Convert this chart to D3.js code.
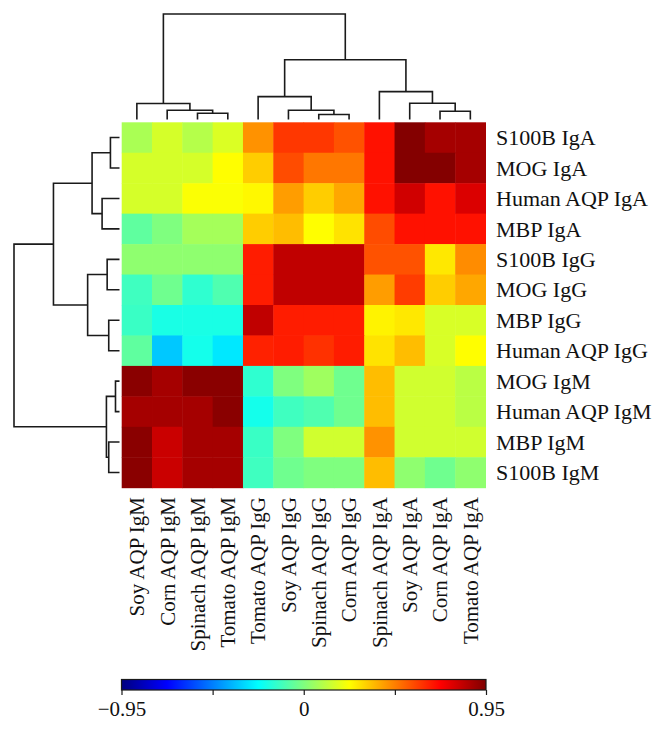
<!DOCTYPE html>
<html>
<head>
<meta charset="utf-8">
<script src="https://cdn.jsdelivr.net/npm/d3@7"></script>
<style>
  html, body { margin: 0; padding: 0; background: #fff; }
  svg { display: block; }
  text { font-family: "Liberation Serif", "DejaVu Serif", serif; fill: #111; }
</style>
</head>
<body>
<svg id="chart" width="666" height="733"></svg>
<script>
// ---------- DATA ----------
const columns = ["Soy AQP IgM", "Corn AQP IgM", "Spinach AQP IgM", "Tomato AQP IgM",
                 "Tomato AQP IgG", "Soy AQP IgG", "Spinach AQP IgG", "Corn AQP IgG",
                 "Spinach AQP IgA", "Soy AQP IgA", "Corn AQP IgA", "Tomato AQP IgA"];
const rows = ["S100B IgA", "MOG IgA", "Human AQP IgA", "MBP IgA",
              "S100B IgG", "MOG IgG", "MBP IgG", "Human AQP IgG",
              "MOG IgM", "Human AQP IgM", "MBP IgM", "S100B IgM"];

// correlation values, one array per row (in column order above)
const rowS100BIgA    = [0.08, 0.16, 0.10, 0.17, 0.44, 0.61, 0.61, 0.56, 0.68, 0.94, 0.88, 0.88];
const rowMOGIgA      = [0.16, 0.16, 0.16, 0.24, 0.33, 0.57, 0.49, 0.49, 0.68, 0.94, 0.94, 0.88];
const rowHumanIgA    = [0.16, 0.16, 0.23, 0.23, 0.25, 0.42, 0.33, 0.40, 0.68, 0.80, 0.68, 0.78];
const rowMBPIgA      = [-0.06, 0.00, 0.07, 0.07, 0.33, 0.36, 0.24, 0.29, 0.57, 0.68, 0.68, 0.68];
const rowS100BIgG    = [0.03, 0.03, 0.03, 0.03, 0.66, 0.83, 0.83, 0.83, 0.56, 0.56, 0.28, 0.45];
const rowMOGIgG      = [-0.12, -0.03, -0.15, -0.09, 0.66, 0.83, 0.83, 0.83, 0.42, 0.60, 0.33, 0.40];
const rowMBPIgG      = [-0.13, -0.19, -0.19, -0.19, 0.83, 0.66, 0.66, 0.66, 0.26, 0.28, 0.165, 0.165];
const rowHumanIgG    = [-0.06, -0.34, -0.20, -0.28, 0.65, 0.66, 0.62, 0.66, 0.29, 0.36, 0.165, 0.24];
const rowMOGIgM      = [0.93, 0.88, 0.93, 0.93, -0.15, 0.00, 0.06, -0.03, 0.36, 0.15, 0.15, 0.11];
const rowHumanIgM    = [0.88, 0.88, 0.88, 0.93, -0.20, -0.12, -0.09, -0.03, 0.36, 0.15, 0.15, 0.11];
const rowMBPIgM      = [0.93, 0.81, 0.88, 0.88, -0.13, 0.00, 0.15, 0.15, 0.44, 0.15, 0.15, 0.15];
const rowS100BIgM    = [0.93, 0.81, 0.88, 0.88, -0.12, -0.03, 0.00, 0.00, 0.36, 0.03, -0.03, 0.03];
const values = [rowS100BIgA, rowMOGIgA, rowHumanIgA, rowMBPIgA, rowS100BIgG, rowMOGIgG,
                rowMBPIgG, rowHumanIgG, rowMOGIgM, rowHumanIgM, rowMBPIgM, rowS100BIgM];

// dendrograms: [left, right, mergeHeight]; leaves are indices (relative heights, root = 1)
const colTree = [[0, [1, [2, 3, 0.059], 0.088], 0.151],
                 [[4, [5, [6, 7, 0.047], 0.088], 0.217],
                  [8, [9, [10, 11, 0.078], 0.154], 0.264], 0.566], 1.0];
const rowTree = [[[[0, 1, 0.086], [2, 3, 0.165], 0.26],
                  [[4, 5, 0.117], [6, 7, 0.102], 0.302], 0.626],
                 [[8, 9, 0.038], [10, 11, 0.102], 0.124], 1.0];

const legendTicks = [-0.95, -0.475, 0, 0.475, 0.95];
const legendLabels = ["\u22120.95", "", "0", "", "0.95"];
const jetColors = ["#00007F", "#0000FF", "#007FFF", "#00FFFF", "#7FFF7F",
                   "#FFFF00", "#FF7F00", "#FF0000", "#7F0000"];

// ---------- SCALES ----------
const svg = d3.select("#chart");
const x = d3.scaleBand().domain(columns).range([121.7, 485.5]);
const y = d3.scaleBand().domain(rows).range([122.3, 487.7]);
const colorDomain = jetColors.map((c, i) => -0.95 + i * 1.9 / (jetColors.length - 1));
const color = d3.scaleLinear().domain(colorDomain).range(jetColors).clamp(true);
const colH = d3.scaleLinear().domain([0, 1]).range([119.5, 14]);
const rowH = d3.scaleLinear().domain([0, 1]).range([119.5, 14]);

// ---------- HEATMAP ----------
const cells = [];
values.forEach((r, i) => r.forEach((v, j) => cells.push({ row: rows[i], col: columns[j], v })));
svg.append("g").selectAll("rect").data(cells).join("rect")
  .attr("x", d => x(d.col))
  .attr("y", d => y(d.row))
  .attr("width", x.bandwidth() + 0.5)
  .attr("height", y.bandwidth() + 0.5)
  .attr("fill", d => color(d.v));

// ---------- DENDROGRAMS ----------
const lineStyle = sel => sel.attr("stroke", "#1a1a1a").attr("stroke-width", 1.6).attr("fill", "none");

function drawTree(node, leafPos, hScale, vertical, g) {
  if (typeof node === "number") return { p: leafPos(node), h: 0 };
  const a = drawTree(node[0], leafPos, hScale, vertical, g);
  const b = drawTree(node[1], leafPos, hScale, vertical, g);
  const h = node[2];
  const H = hScale(h);
  const path = vertical
    ? `M${a.p},${hScale(a.h)}V${H}H${b.p}V${hScale(b.h)}`
    : `M${hScale(a.h)},${a.p}H${H}V${b.p}H${hScale(b.h)}`;
  g.append("path").attr("d", path).call(lineStyle);
  return { p: (a.p + b.p) / 2, h };
}
drawTree(colTree, i => x(columns[i]) + x.bandwidth() / 2, colH, true, svg.append("g"));
drawTree(rowTree, i => y(rows[i]) + y.bandwidth() / 2, rowH, false, svg.append("g"));

// ---------- LABELS ----------
svg.append("g").selectAll("text").data(rows).join("text")
  .attr("x", 496)
  .attr("y", d => y(d) + y.bandwidth() / 2)
  .attr("dy", "0.35em")
  .attr("font-size", 22)
  .text(d => d);

svg.append("g").selectAll("text").data(columns).join("text")
  .attr("transform", d => `translate(${x(d) + x.bandwidth() / 2},497) rotate(-90)`)
  .attr("dy", "0.35em")
  .attr("text-anchor", "end")
  .attr("font-size", 21)
  .text(d => d);

// ---------- COLOR KEY ----------
const keyX = d3.scaleLinear().domain([-0.95, 0.95]).range([121.5, 486]);
const defs = svg.append("defs");
const grad = defs.append("linearGradient").attr("id", "jet").attr("x1", "0%").attr("x2", "100%");
grad.selectAll("stop").data(colorDomain).join("stop")
  .attr("offset", d => ((keyX(d) - keyX(-0.95)) / (keyX(0.95) - keyX(-0.95)) * 100) + "%")
  .attr("stop-color", d => color(d));
svg.append("rect")
  .attr("x", keyX(-0.95)).attr("y", 679.5)
  .attr("width", keyX(0.95) - keyX(-0.95)).attr("height", 10.5)
  .attr("fill", "url(#jet)").attr("stroke", "#1a1a1a").attr("stroke-width", 1.2);

const keyAxis = d3.axisBottom(keyX).tickValues(legendTicks).tickSize(5).tickPadding(6)
  .tickFormat((d, i) => legendLabels[i]);
const ax = svg.append("g").attr("transform", "translate(0,690)").call(keyAxis);
ax.select(".domain").remove();
ax.selectAll("line").attr("stroke", "#1a1a1a").attr("stroke-width", 1.2);
ax.selectAll("text").attr("font-size", 21).attr("font-family", "Liberation Serif, serif").attr("fill", "#111");
</script>
</body>
</html>
